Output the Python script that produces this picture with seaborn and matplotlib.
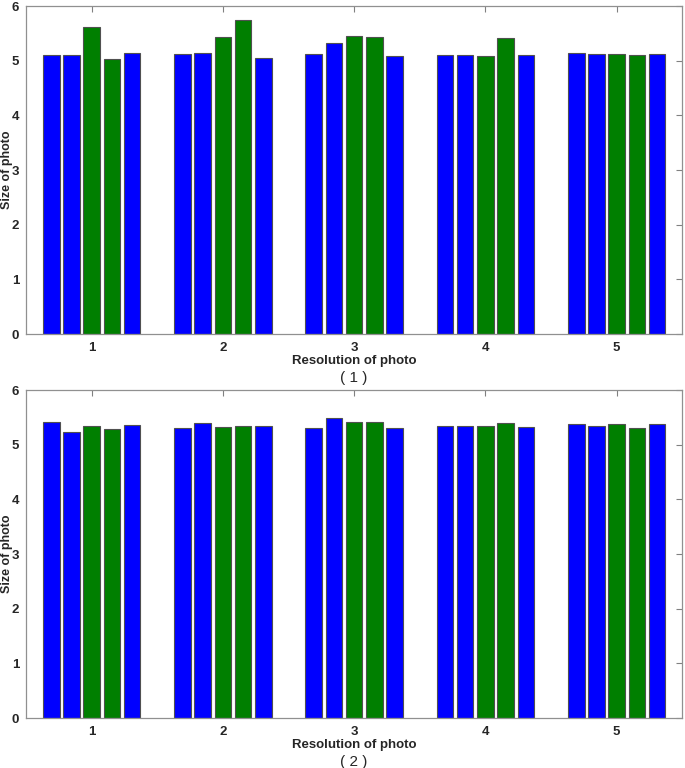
import numpy as np
import pandas as pd
import matplotlib
matplotlib.use("Agg")
import matplotlib.pyplot as plt
import seaborn as sns

groups = ["1", "2", "3", "4", "5"]
bar_ids = ["a", "b", "c", "d", "e"]
bar_colors = ["#0000ff", "#0000ff", "#007f00", "#007f00", "#0000ff"]

# sizes, one row per resolution group
size_top = [
    [5.10, 5.10, 5.61, 5.04, 5.14],
    [5.13, 5.15, 5.44, 5.74, 5.06],
    [5.12, 5.33, 5.45, 5.44, 5.09],
    [5.11, 5.11, 5.09, 5.41, 5.10],
    [5.15, 5.13, 5.12, 5.10, 5.13],
]
size_bottom = [
    [5.42, 5.23, 5.35, 5.28, 5.37],
    [5.31, 5.40, 5.32, 5.34, 5.34],
    [5.31, 5.49, 5.41, 5.41, 5.30],
    [5.35, 5.35, 5.35, 5.39, 5.32],
    [5.38, 5.35, 5.38, 5.31, 5.38],
]
captions = ["( 1 )", "( 2 )"]


def to_long(vals):
    rows = []
    for g, row in zip(groups, vals):
        for b, v in zip(bar_ids, row):
            rows.append({"group": g, "bar": b, "size": v})
    return pd.DataFrame(rows)


sns.set_theme(style="white")
plt.rcParams["font.family"] = ["Liberation Sans", "DejaVu Sans"]

fig = plt.figure(figsize=(6.85, 7.68), dpi=100)
ax_top = fig.add_axes([0.038, 0.565, 0.958, 0.427])
ax_bot = fig.add_axes([0.038, 0.065, 0.958, 0.427])

pal = dict(zip(bar_ids, bar_colors))
for ax, vals, cap in [(ax_top, size_top, captions[0]), (ax_bot, size_bottom, captions[1])]:
    df = to_long(vals)
    sns.barplot(data=df, x="group", y="size", hue="bar", palette=pal,
                saturation=1, width=0.77, gap=0.18, edgecolor="#505050",
                linewidth=0.8, legend=False, ax=ax)
    ax.set_xlim(-0.5, 4.5)
    ax.set_ylim(0, 6)
    ax.set_yticks(range(0, 7))
    ax.tick_params(direction="in", length=4, width=0.8, color="#808080",
                   labelsize=9.5, top=True, right=True)
    ax.tick_params(axis="y", pad=5)
    ax.tick_params(axis="x", pad=6)
    for lab in ax.get_xticklabels() + ax.get_yticklabels():
        lab.set_fontweight("bold")
    ax.set_ylabel("Size of photo", fontsize=9, fontweight="bold")
    ax.set_xlabel("Resolution of photo", fontsize=9.5, fontweight="bold")
    for sp in ax.spines.values():
        sp.set_color("#909090")
        sp.set_linewidth(0.9)
    ax.text(0.5, -0.134, cap, transform=ax.transAxes, ha="center", va="center",
            fontsize=11)
    ax.yaxis.set_label_coords(-0.02, 0.5)
    ax.xaxis.set_label_coords(0.5, -0.064)

fig.savefig("out.png", dpi=100)
